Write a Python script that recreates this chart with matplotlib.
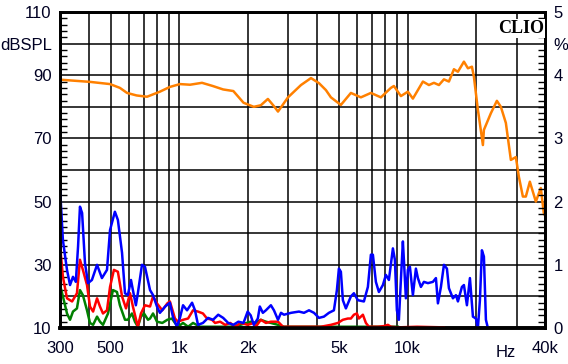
import matplotlib
matplotlib.use("Agg")
import matplotlib.pyplot as plt
from matplotlib.ticker import MultipleLocator, NullLocator

# Frequency response (dBSPL)
resp_freq = [300, 406, 497, 549, 590, 650, 722, 822, 909, 1006, 1114, 1257, 1400, 1556,
             1724, 1910, 2119, 2275, 2443, 2597, 2705, 2992, 3411, 3773, 4089, 4386, 4613,
             5101, 5643, 6241, 6904, 7637, 8448, 8707, 9344, 10027, 10546, 11667, 12398,
             13039, 13713, 14424, 15168, 15955, 16610, 17646, 18373, 19131, 19518, 20320,
             20526, 21370, 21587, 23166, 24604, 25616, 26939, 28332, 29798, 30714, 31977,
             32955, 34315, 36451, 38320, 39497, 40000]
resp_db = [88.6, 87.9, 87.2, 86.0, 84.4, 83.6, 83.2, 84.8, 86.3, 87.2, 87.0, 87.6, 86.6, 85.5,
           85.0, 81.3, 80.0, 80.5, 82.5, 80.2, 78.5, 83.0, 86.9, 89.1, 87.5, 85.3, 83.0,
           80.6, 84.4, 83.0, 84.4, 83.0, 86.0, 86.6, 83.4, 84.8, 82.6, 88.0, 86.9,
           87.6, 86.9, 88.7, 88.0, 91.9, 91.1, 94.3, 92.2, 92.7, 89.5, 79.0,
           76.9, 67.9, 72.7, 78.0, 81.9, 80.0, 74.9, 63.2, 64.1, 57.9, 51.6,
           51.6, 56.3, 50.0, 54.3, 46.4, 45.5]

# 2nd harmonic (%)
h2_freq = [300, 309, 322, 332, 342, 352, 360, 367, 375, 386, 398, 414, 436, 458, 482, 497, 522,
           538, 561, 578, 595, 614, 626, 645, 658, 686, 707, 744, 767, 798, 822, 867, 909,
           937, 976, 1006, 1038, 1081, 1137, 1171, 1207, 1269, 1336, 1405, 1480, 1556, 1637,
           1724, 1815, 1910, 1992, 2054, 2119, 2207, 2252, 2322, 2394, 2518, 2597, 2705,
           2788, 2874, 3085, 3343, 3516, 3698, 3889, 4089, 4299, 4521, 4755, 4900, 5000,
           5101, 5205, 5365, 5643, 5817, 6056, 6434, 6698, 6904, 7045, 7261, 7484, 7793,
           8032, 8279, 8620, 8795, 8974, 9157, 9344, 9534, 9631, 9827, 10027, 10232, 10546,
           10871, 11092, 11435, 11786, 12273, 12907, 13305, 13575, 13993, 14424, 14866,
           15168, 15794, 16280, 16610, 17295, 17646, 18188, 18748, 19323, 19916, 20320,
           20735, 21155, 21587, 22028, 22476]
h2_pct = [2.23, 1.39, 0.92, 0.68, 0.81, 0.73, 1.29, 1.92, 1.82, 1.03, 0.71, 0.76, 1.00, 0.79,
          0.92, 1.55, 1.84, 1.71, 1.19, 0.55, 0.52, 0.76, 0.60, 0.36, 0.55, 1.00, 0.97, 0.60,
          0.52, 0.34, 0.24, 0.34, 0.40, 0.18, 0.02, 0.16, 0.36, 0.28, 0.40, 0.28, 0.05, 0.08,
          0.16, 0.13, 0.21, 0.16, 0.08, 0.05, 0.10, 0.08, 0.26, 0.20, 0.05, 0.15, 0.34, 0.24,
          0.28, 0.36, 0.28, 0.13, 0.24, 0.21, 0.24, 0.26, 0.24, 0.28, 0.24, 0.16, 0.18, 0.24,
          0.28, 0.60, 0.94, 0.89, 0.44, 0.31, 0.50, 0.55, 0.44, 0.42, 0.65, 1.16, 1.16, 0.73,
          0.57, 0.68, 0.84, 0.76, 1.26, 1.08, 0.28, 0.13, 0.76, 1.37, 1.08, 0.47, 0.92, 0.97,
          0.52, 0.94, 0.79, 0.65, 0.73, 0.71, 0.73, 0.79, 0.39, 0.65, 1.00, 0.94, 0.63, 0.47,
          0.52, 0.42, 0.65, 0.68, 0.36, 0.79, 0.18, 0.15, 0.00, 0.44, 1.23, 1.13, 0.13, 0.00]

# 3rd harmonic (%)
h3_freq = [300, 309, 322, 339, 356, 367, 378, 394, 406, 419, 436, 449, 463, 482, 497, 517, 538,
           561, 584, 608, 626, 658, 679, 707, 744, 767, 798, 842, 886, 909, 957, 986, 1038,
           1092, 1148, 1207, 1269, 1322, 1391, 1434, 1509, 1588, 1671, 1760, 1852, 1992,
           2119, 2162, 2275, 2394, 2518, 2705, 2845, 3085, 3773, 4171, 4613, 4950, 5205,
           5475, 5643, 5817, 5995, 6117, 6369, 6565, 6766, 7409, 7872, 8196, 8448, 9065,
           11000, 14424]
h3_pct = [1.31, 0.81, 0.47, 0.42, 0.55, 1.08, 0.92, 0.68, 0.34, 0.26, 0.47, 0.34, 0.23, 0.28,
          0.65, 0.92, 0.89, 0.50, 0.31, 0.55, 0.34, 0.02, 0.23, 0.36, 0.34, 0.50, 0.39, 0.28,
          0.39, 0.42, 0.15, 0.10, 0.13, 0.15, 0.28, 0.26, 0.23, 0.15, 0.13, 0.08, 0.10, 0.05,
          0.08, 0.02, 0.08, 0.05, 0.08, 0.02, 0.13, 0.08, 0.10, 0.10, 0.02, 0.02, 0.02, 0.02,
          0.05, 0.08, 0.13, 0.15, 0.15, 0.21, 0.23, 0.15, 0.21, 0.08, 0.02, 0.02, 0.03, 0.05,
          0.02, 0.01, 0.02, 0.01]

# 4th harmonic (%)
h4_freq = [300, 309, 322, 332, 342, 356, 367, 378, 394, 406, 419, 436, 449, 463, 487, 512, 533,
           549, 578, 595, 620, 639, 658, 679, 700, 729, 744, 767, 798, 842, 886, 928, 957,
           986, 1038, 1092, 1148, 1232, 1464, 1671, 1852, 2054, 2162, 2275, 2394, 2518, 2705,
           2874, 4000, 6000, 9065]
h4_pct = [0.68, 0.50, 0.23, 0.13, 0.26, 0.31, 0.60, 0.52, 0.28, 0.08, 0.05, 0.18, 0.10, 0.05,
          0.23, 0.60, 0.57, 0.36, 0.13, 0.13, 0.23, 0.10, 0.02, 0.18, 0.23, 0.13, 0.15, 0.23,
          0.10, 0.08, 0.13, 0.15, 0.08, 0.02, 0.08, 0.02, 0.08, 0.02, 0.02, 0.02, 0.05, 0.10,
          0.08, 0.13, 0.10, 0.08, 0.05, 0.02, 0.02, 0.02, 0.02]

grid_freqs = [300, 400, 500, 600, 700, 800, 900, 1000, 2000, 3000, 4000, 5000, 6000, 7000,
              8000, 9000, 10000, 20000, 30000, 40000]
freq_labels = ["300", "", "500", "", "", "", "", "1k", "2k", "", "", "5k", "", "", "", "",
               "10k", "", "", "40k"]
db_ticks = [10, 20, 30, 40, 50, 60, 70, 80, 90, 100, 110]
db_labels = ["10", "", "30", "", "50", "", "70", "", "90", "dBSPL", "110"]
pct_ticks = [0, 1, 2, 3, 4, 4.5, 5]
pct_labels = ["0", "1", "2", "3", "4", "%", "5"]

plt.rcParams["font.family"] = ["Liberation Sans", "DejaVu Sans"]
txt_color = "#000022"

fig = plt.figure(figsize=(5.68, 3.64), dpi=100)
ax = fig.add_axes([0.1056, 0.0989, 0.854, 0.868])
ax.set_xscale("log")
ax.set_xlim(300, 40000)
ax.set_ylim(10, 110)

ax.set_xticks(grid_freqs)
ax.set_xticklabels(freq_labels)
ax.xaxis.set_minor_locator(NullLocator())
ax.set_yticks(db_ticks)
ax.set_yticklabels(db_labels)
ax.yaxis.set_minor_locator(MultipleLocator(2))
ax.tick_params(axis="both", which="major", length=0, labelsize=12, colors=txt_color)
ax.tick_params(axis="x", pad=9)
ax.tick_params(axis="y", pad=6)
ax.tick_params(axis="y", which="minor", direction="in", length=5, width=1, left=True)
ax.grid(True, color="black", linewidth=1.1)
for s in ax.spines.values():
    s.set_linewidth(2)
    s.set_zorder(5)
ax.spines["bottom"].set_linewidth(2.6)

ax.plot(resp_freq, resp_db, color="#ff8000", linewidth=1.8, zorder=3)

ax2 = ax.twinx()
ax2.set_ylim(0, 5)
ax2.set_yticks(pct_ticks)
ax2.set_yticklabels(pct_labels)
ax2.yaxis.set_minor_locator(MultipleLocator(0.1))
ax2.tick_params(axis="y", which="major", length=0, labelsize=12, pad=6, colors=txt_color)
ax2.tick_params(axis="y", which="minor", direction="in", length=5, width=1)
for s in ax2.spines.values():
    s.set_linewidth(2)
ax2.spines["bottom"].set_linewidth(2.6)

ax2.plot(h4_freq, h4_pct, color="#008000", linewidth=1.8)
ax2.plot(h3_freq, h3_pct, color="#ff0000", linewidth=1.8)
ax2.plot(h2_freq, h2_pct, color="#0000ff", linewidth=1.8)

ax.text(27000, -0.055, "Hz", transform=ax.get_xaxis_transform(), ha="center", va="top",
        fontsize=12, color=txt_color)
ax2.text(0.998, 0.975, "CLIO", transform=ax2.transAxes, ha="right", va="top",
         fontsize=13, fontweight="bold", family="Liberation Serif", color="black",
         bbox=dict(facecolor="white", edgecolor="none", pad=0.5))

fig.savefig("out.png", dpi=100, facecolor="white")
